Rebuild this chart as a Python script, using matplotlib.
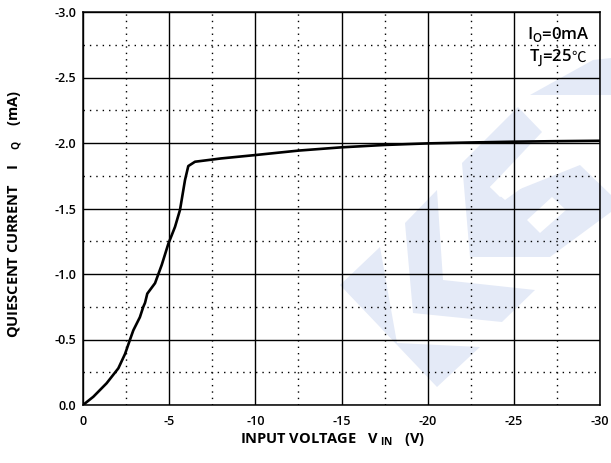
# -*- coding: utf-8 -*-
import matplotlib
matplotlib.use('Agg')
import matplotlib.pyplot as plt
from matplotlib.patches import Polygon
from matplotlib.ticker import MultipleLocator


# input voltage (V) and quiescent current (mA), both shown as negative values
VIN = [0, -0.6, -1.37, -2.05, -2.44, -2.73, -2.92, -3.3, -3.5, -3.6, -3.73, -4.18,
       -4.57, -4.95, -5.34, -5.63, -5.92, -6.11, -6.5, -8.0, -10.0, -12.5, -15.0,
       -17.5, -20.0, -22.5, -25.0, -27.5, -30.0]
IQ = [0, -0.063, -0.166, -0.28, -0.39, -0.50, -0.57, -0.67, -0.75, -0.78, -0.85, -0.93,
      -1.07, -1.23, -1.36, -1.49, -1.718, -1.824, -1.857, -1.882, -1.908, -1.942, -1.967,
      -1.985, -1.997, -2.004, -2.01, -2.014, -2.017]

XTICKS = [0, -5, -10, -15, -20, -25, -30]
XTICK_LABELS = ['0', '-5', '-10', '-15', '-20', '-25', '-30']
YTICKS = [0.0, -0.5, -1.0, -1.5, -2.0, -2.5, -3.0]
YTICK_LABELS = ['0.0', '-0.5', '-1.0', '-1.5', '-2.0', '-2.5', '-3.0']

W, H = 611, 463
FONT = ['Open Sans', 'DejaVu Sans']

fig = plt.figure(figsize=(W / 100, H / 100), dpi=100)
ax = fig.add_axes([83 / W, 1 - 405 / H, 517 / W, 393 / H])
ax.set_axisbelow(True)

# faint logo watermark behind the grid (pixel outlines)
wm = [
    [(340, 285), (437, 387), (480, 347), (397, 343), (380, 247)],
    [(405, 223), (437, 190), (443, 280), (535, 290), (502, 322), (413, 313)],
    [(462, 163), (518, 107), (542, 132), (490, 187), (500, 197), (580, 165),
     (611, 195), (611, 212), (550, 257), (470, 257)],
    [(530, 95), (593, 60), (611, 58), (611, 95)],
]
for pts in wm:
    p = Polygon([(x / W, 1 - y / H) for x, y in pts], closed=True,
                transform=fig.transFigure, facecolor='#e4eaf7', edgecolor='none',
                zorder=0.2, clip_on=False)
    ax.add_patch(p)
# white cut-outs in the logo
for pts in [[(490, 187), (508, 170), (530, 182), (505, 200)],
            [(527, 220), (552, 197), (566, 210), (540, 233)]]:
    p = Polygon([(x / W, 1 - y / H) for x, y in pts], closed=True,
                transform=fig.transFigure, facecolor='white', edgecolor='none',
                zorder=0.3, clip_on=False)
    ax.add_patch(p)

ax.plot(VIN, IQ, color='black', lw=1.9, solid_joinstyle='round', zorder=3)

ax.set_xlim(0, -30)
ax.set_ylim(0, -3.0)
ax.set_xticks(XTICKS)
ax.set_xticklabels(XTICK_LABELS)
ax.set_yticks(YTICKS)
ax.set_yticklabels(YTICK_LABELS)
ax.xaxis.set_minor_locator(MultipleLocator(2.5))
ax.yaxis.set_minor_locator(MultipleLocator(0.25))

ax.grid(which='major', color='black', lw=1.0, ls='-')
ax.grid(which='minor', color='black', lw=1.0, ls=(0, (1, 3.6)))
ax.tick_params(which='both', length=0)
ax.tick_params(axis='x', pad=7)
ax.tick_params(axis='y', pad=5)
for lab in ax.get_xticklabels() + ax.get_yticklabels():
    lab.set_family(FONT)
    lab.set_fontsize(9)
    lab.set_fontweight('semibold')
for s in ax.spines.values():
    s.set_linewidth(1.1)
    s.set_zorder(4)

# axis titles
fig.text(332 / W, 1 - 440 / H, r'INPUT VOLTAGE   V $_{\mathregular{IN}}$   (V)',
         ha='center', va='center', family='Open Sans', fontsize=10.5, fontweight='bold')
fig.text(15 / W, 1 - 214 / H, r'QUIESCENT CURRENT    I    $_{\mathregular{Q}}$    (mA)',
         ha='center', va='center', rotation=90, family='Open Sans', fontsize=10.5,
         fontweight='bold')

# conditions
fig.text(527 / W, 1 - 39 / H, r'I$_{\mathregular{O}}$=0mA', ha='left', va='baseline',
         family='Open Sans', fontsize=12, fontweight='semibold')
fig.text(529 / W, 1 - 62 / H, r'T$_{\mathregular{J}}$=25', ha='left', va='baseline',
         family='Open Sans', fontsize=12, fontweight='semibold')
fig.text(571 / W, 1 - 62 / H, u'\u2103', ha='left', va='baseline',
         family=['Noto Sans CJK SC', 'DejaVu Sans'], fontsize=10.5)

fig.savefig('out.png', dpi=100)
